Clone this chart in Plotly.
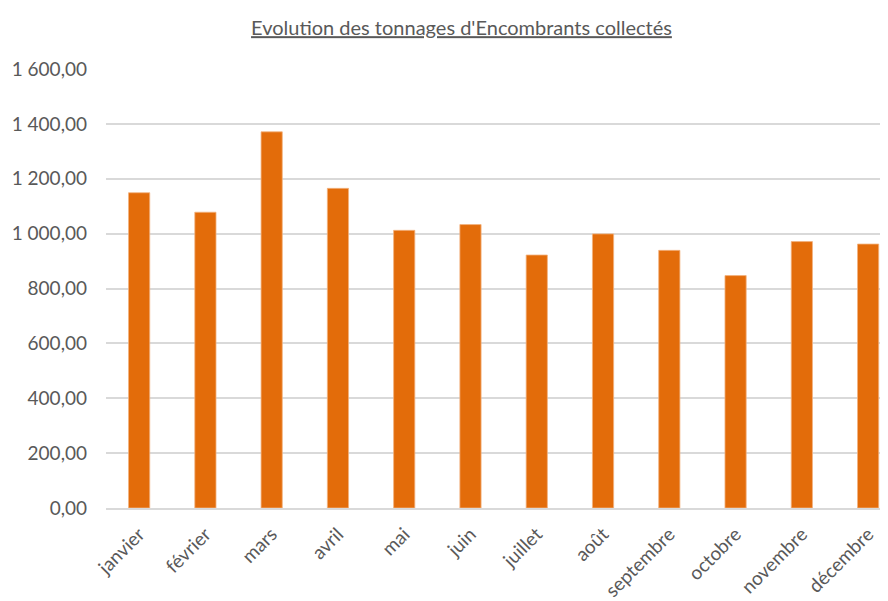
import plotly.graph_objects as go

# Tonnages d'encombrants collectés par mois
mois = ["janvier", "février", "mars", "avril", "mai", "juin",
        "juillet", "août", "septembre", "octobre", "novembre", "décembre"]
tonnages = [1149, 1078, 1371, 1165, 1012, 1033, 922, 999, 939, 847, 971, 962]
y_ticks = [0, 200, 400, 600, 800, 1000, 1200, 1400, 1600]

GRAY = "#595959"
GRID = "#d9d9d9"
FONT = "Lato, Open Sans, sans-serif"

fig = go.Figure(go.Bar(
    x=mois,
    y=tonnages,
    marker=dict(color="#E36C0A", line=dict(color="#f3b27f", width=0.8)),
    hoverinfo="x+y",
))

# page body has an 8px margin, so the figure is sized to the remaining window
fig.update_layout(
    width=880,
    height=593,
    title=dict(
        text="<u>Evolution des tonnages d'Encombrants collectés</u>",
        x=0.5153, xref="container", xanchor="center",
        y=0.966, yref="container", yanchor="middle",
        font=dict(family=FONT, size=20, color=GRAY),
    ),
    separators=", ",
    bargap=0.68,
    margin=dict(l=98, r=0, t=61, b=87),
    plot_bgcolor="white",
    paper_bgcolor="white",
    showlegend=False,
    font=dict(family=FONT, color=GRAY),
    xaxis=dict(
        range=[-0.5, 11.3],
        tickangle=-45,
        tickfont=dict(size=19, color=GRAY),
        showline=True, linecolor=GRID, linewidth=1.5,
        showgrid=False, ticks="",
        ticklabelstandoff=6,
    ),
    yaxis=dict(
        range=[0, 1600],
        tickvals=y_ticks,
        tickformat=",.2f",
        tickfont=dict(size=19, color=GRAY),
        showgrid=True, gridcolor=GRID, gridwidth=1.5,
        zeroline=False, ticks="",
        ticklabelstandoff=18,
    ),
)

fig.write_html("out.html")
